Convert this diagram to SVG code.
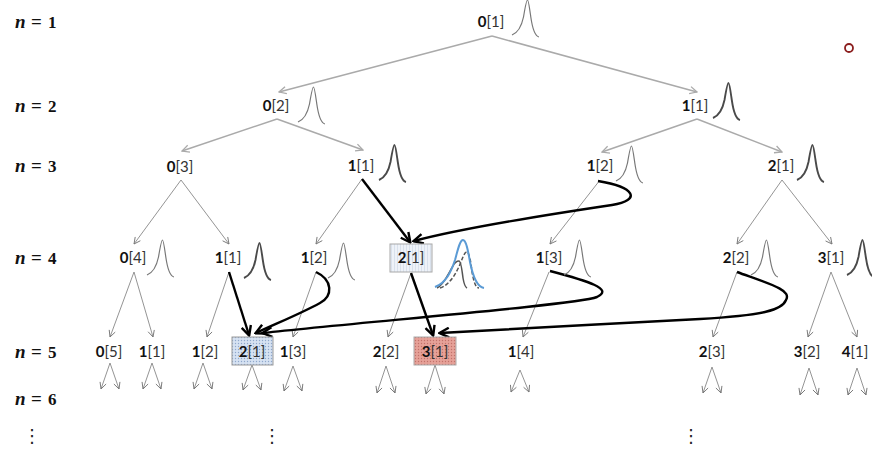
<svg xmlns="http://www.w3.org/2000/svg" xmlns:xlink="http://www.w3.org/1999/xlink" width="872" height="459" viewBox="0 0 872 459">
<style>
.row{font-family:"Liberation Serif",serif;font-weight:bold;font-size:17px;fill:#111}
.nv{font-style:italic;font-size:19px}
.eq{font-size:19px}
.lbl{font-family:Lato,"Liberation Sans",sans-serif;font-size:15px;fill:#333;text-anchor:middle}
.b{font-weight:bold;fill:#111}
.bl{fill:none;stroke:#777;stroke-width:1.2}
.bd{fill:none;stroke:#4a4a4a;stroke-width:1.9}
.t1{fill:none;stroke:#aaa;stroke-width:1.5;marker-end:url(#ma)}
.t2{fill:none;stroke:#888;stroke-width:0.9;marker-end:url(#mb)}
.tk{fill:none;stroke:#000;stroke-width:2.4;marker-end:url(#mk)}
.dots{font-family:"DejaVu Sans",sans-serif;font-size:18px;fill:#222;text-anchor:middle}
</style>
<defs>
<path id="bell" d="M0,35 C5,33 9,29 11.5,17 C13,8 14.5,0 15.5,0 C16.5,0 17.5,8 18.8,17 C20.5,29 23,36 27,37"/>
<marker id="ma" viewBox="0 0 10 10" refX="9" refY="5" markerWidth="9" markerHeight="9" markerUnits="userSpaceOnUse" orient="auto"><path d="M1,1 L9,5 L1,9" fill="none" stroke="#aaa" stroke-width="1.4"/></marker>
<marker id="mb" viewBox="0 0 10 10" refX="9" refY="5" markerWidth="8" markerHeight="8" markerUnits="userSpaceOnUse" orient="auto"><path d="M1,1 L9,5 L1,9" fill="none" stroke="#777" stroke-width="1.1"/></marker>
<marker id="mk" viewBox="0 0 10 10" refX="8.5" refY="5" markerWidth="12" markerHeight="12" markerUnits="userSpaceOnUse" orient="auto"><path d="M1,1 L9,5 L1,9" fill="none" stroke="#000" stroke-width="2"/></marker>
<pattern id="pblue" width="3" height="3" patternUnits="userSpaceOnUse"><rect width="3" height="3" fill="#D6E2F2"/><circle cx="1.5" cy="1.5" r="0.7" fill="#8FA8CC"/></pattern>
<pattern id="pred" width="3" height="3" patternUnits="userSpaceOnUse"><rect width="3" height="3" fill="#E6A198"/><circle cx="1.5" cy="1.5" r="0.7" fill="#C2726A"/></pattern>
<pattern id="plite" width="3" height="3" patternUnits="userSpaceOnUse"><rect width="3" height="3" fill="#EEF2F8"/><rect x="1" width="1" height="3" fill="#D9E1EC"/></pattern>
</defs>
<rect width="872" height="459" fill="#fff"/>

<g id="rows">
<text class="row" y="28"><tspan class="nv" x="15">n</tspan><tspan class="eq" x="31">=</tspan><tspan x="48">1</tspan></text>
<text class="row" y="112"><tspan class="nv" x="15">n</tspan><tspan class="eq" x="31">=</tspan><tspan x="48">2</tspan></text>
<text class="row" y="172"><tspan class="nv" x="15">n</tspan><tspan class="eq" x="31">=</tspan><tspan x="48">3</tspan></text>
<text class="row" y="264"><tspan class="nv" x="15">n</tspan><tspan class="eq" x="31">=</tspan><tspan x="48">4</tspan></text>
<text class="row" y="358"><tspan class="nv" x="15">n</tspan><tspan class="eq" x="31">=</tspan><tspan x="48">5</tspan></text>
<text class="row" y="405"><tspan class="nv" x="15">n</tspan><tspan class="eq" x="31">=</tspan><tspan x="48">6</tspan></text>
<text class="dots" x="32" y="442">⋮</text>
<text class="dots" x="272" y="442">⋮</text>
<text class="dots" x="691" y="442">⋮</text>
</g>

<circle cx="849" cy="48" r="4" fill="none" stroke="#8B1E1E" stroke-width="1.8"/>

<g id="connectors">
<path class="t1" d="M492,36 L279,92"/>
<path class="t1" d="M492,36 L697,92"/>
<path class="t1" d="M277,119 L182,151"/>
<path class="t1" d="M277,119 L363,150"/>
<path class="t1" d="M697,119 L602,152"/>
<path class="t1" d="M697,119 L782,152"/>
<path class="t2" d="M181,180 L134,244"/>
<path class="t2" d="M181,180 L229,244"/>
<path class="t2" d="M362,179 L316,244"/>
<path class="t2" d="M600,180 L550,244"/>
<path class="t2" d="M782,180 L737,244"/>
<path class="t2" d="M782,180 L832,244"/>
<path class="t2" d="M134,272 L110,337"/>
<path class="t2" d="M134,272 L153,337"/>
<path class="t2" d="M229,272 L207,337"/>
<path class="t2" d="M316,272 L293,337"/>
<path class="t2" d="M411,273 L388,337"/>
<path class="t2" d="M549,272 L523,337"/>
<path class="t2" d="M737,272 L713,337"/>
<path class="t2" d="M831,272 L808,337"/>
<path class="t2" d="M831,272 L857,337"/>
<path class="t2" d="M110,363 L101,389"/><path class="t2" d="M110,363 L119,389"/>
<path class="t2" d="M152,363 L143,389"/><path class="t2" d="M152,363 L161,389"/>
<path class="t2" d="M203,363 L194,389"/><path class="t2" d="M203,363 L212,389"/>
<path class="t2" d="M252,365 L243,390"/><path class="t2" d="M252,365 L261,390"/>
<path class="t2" d="M293,366 L284,391"/><path class="t2" d="M293,366 L302,391"/>
<path class="t2" d="M386,366 L377,393"/><path class="t2" d="M386,366 L395,393"/>
<path class="t2" d="M435,365 L426,394"/><path class="t2" d="M435,365 L444,394"/>
<path class="t2" d="M520,370 L511,392"/><path class="t2" d="M520,370 L529,392"/>
<path class="t2" d="M712,367 L703,393"/><path class="t2" d="M712,367 L721,393"/>
<path class="t2" d="M809,368 L800,395"/><path class="t2" d="M809,368 L818,395"/>
<path class="t2" d="M857,368 L848,395"/><path class="t2" d="M857,368 L866,395"/>
<path class="tk" d="M362,179 L410,242"/>
<path class="tk" d="M598,181 C635,187 642,200 612,205 C545,215 455,230 414,241"/>
<path class="tk" d="M229,272 L249,335"/>
<path class="tk" d="M316,272 C333,280 333,296 320,303 C300,314 275,324 256,333"/>
<path class="tk" d="M550,271 C588,281 614,289 597,297 C575,305 360,322 263,333"/>
<path class="tk" d="M411,273 L433,335"/>
<path class="tk" d="M737,272 C770,284 792,290 786,300 C782,310 765,315 700,319 C620,323 500,330 440,333"/>
</g>

<g id="n1-0-1"><text class="lbl" x="491" y="27"><tspan class="b">0</tspan>[1]</text><use href="#bell" class="bl" x="512" y="0"/></g>
<g id="n2-0-2"><text class="lbl" x="276" y="111"><tspan class="b">0</tspan>[2]</text><use href="#bell" class="bl" x="298" y="87"/></g>
<g id="n2-1-1"><text class="lbl" x="695" y="111"><tspan class="b">1</tspan>[1]</text><use href="#bell" class="bd" x="713" y="83"/></g>
<g id="n3-0-3"><text class="lbl" x="180" y="172"><tspan class="b">0</tspan>[3]</text></g>
<g id="n3-1-1"><text class="lbl" x="361" y="171"><tspan class="b">1</tspan>[1]</text><use href="#bell" class="bd" x="379" y="145"/></g>
<g id="n3-1-2"><text class="lbl" x="600" y="171"><tspan class="b">1</tspan>[2]</text><use href="#bell" class="bl" x="616" y="146"/></g>
<g id="n3-2-1"><text class="lbl" x="781" y="171"><tspan class="b">2</tspan>[1]</text><use href="#bell" class="bd" x="797" y="145"/></g>
<g id="n4-0-4"><text class="lbl" x="133" y="263"><tspan class="b">0</tspan>[4]</text><use href="#bell" class="bl" x="147" y="240"/></g>
<g id="n4-1-1"><text class="lbl" x="228" y="263"><tspan class="b">1</tspan>[1]</text><use href="#bell" class="bd" x="244" y="243"/></g>
<g id="n4-1-2"><text class="lbl" x="314" y="263"><tspan class="b">1</tspan>[2]</text><use href="#bell" class="bl" x="328" y="243"/></g>
<g id="n4-2-1"><rect x="390" y="244" width="42" height="28" fill="url(#plite)" stroke="#a8a8a8" stroke-width="1"/><text class="lbl" x="411" y="263"><tspan class="b">2</tspan>[1]</text>
<path d="M437,288 C444,285 449,272 453,266 C455,262 457,261 459,261 C461,261 462,270 463,278 C464,284 465,287 467,288" fill="none" stroke="#555" stroke-width="1.5"/>
<path d="M440,288 C450,285 457,272 461,262 C464,254 465,252 467,252 C469,252 471,262 472,272 C474,283 476,288 479,288" fill="none" stroke="#555" stroke-width="1.5" stroke-dasharray="4,2"/>
<path d="M435,287 C446,283 451,272 455,260 C458,249 460,240 463,240 C466,240 468,250 470,262 C473,277 477,287 484,288" fill="none" stroke="#5B9BD5" stroke-width="2"/></g>
<g id="n4-1-3"><text class="lbl" x="549" y="263"><tspan class="b">1</tspan>[3]</text><use href="#bell" class="bl" x="564" y="240"/></g>
<g id="n4-2-2"><text class="lbl" x="736" y="263"><tspan class="b">2</tspan>[2]</text><use href="#bell" class="bl" x="751" y="240"/></g>
<g id="n4-3-1"><text class="lbl" x="831" y="263"><tspan class="b">3</tspan>[1]</text><use href="#bell" class="bd" x="847" y="240"/></g>
<g id="n5-0-5"><text class="lbl" x="109" y="357"><tspan class="b">0</tspan>[5]</text></g>
<g id="n5-1-1"><text class="lbl" x="152" y="357"><tspan class="b">1</tspan>[1]</text></g>
<g id="n5-1-2"><text class="lbl" x="205" y="357"><tspan class="b">1</tspan>[2]</text></g>
<g id="n5-2-1"><rect x="232" y="337" width="41" height="28" fill="url(#pblue)" stroke="#9a9a9a" stroke-width="1"/><text class="lbl" x="252" y="357"><tspan class="b">2</tspan>[1]</text></g>
<g id="n5-1-3"><text class="lbl" x="293" y="357"><tspan class="b">1</tspan>[3]</text></g>
<g id="n5-2-2"><text class="lbl" x="386" y="357"><tspan class="b">2</tspan>[2]</text></g>
<g id="n5-3-1"><rect x="414" y="337" width="42" height="28" fill="url(#pred)" stroke="#aaa" stroke-width="1"/><text class="lbl" x="435" y="357"><tspan class="b">3</tspan>[1]</text></g>
<g id="n5-1-4"><text class="lbl" x="521" y="357"><tspan class="b">1</tspan>[4]</text></g>
<g id="n5-2-3"><text class="lbl" x="712" y="357"><tspan class="b">2</tspan>[3]</text></g>
<g id="n5-3-2"><text class="lbl" x="807" y="357"><tspan class="b">3</tspan>[2]</text></g>
<g id="n5-4-1"><text class="lbl" x="855" y="357"><tspan class="b">4</tspan>[1]</text></g>
</svg>
